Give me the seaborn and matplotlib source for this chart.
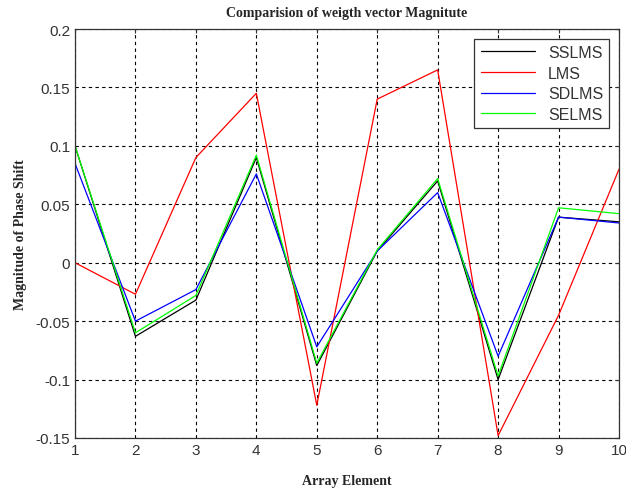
import seaborn as sns
import matplotlib.pyplot as plt
import pandas as pd

# values
elements = [1, 2, 3, 4, 5, 6, 7, 8, 9, 10]
sslms = [0.100, -0.063, -0.032, 0.090, -0.088, 0.010, 0.070, -0.100, 0.039, 0.035]
lms = [0.000, -0.027, 0.090, 0.145, -0.122, 0.140, 0.165, -0.148, -0.045, 0.080]
sdlms = [0.085, -0.050, -0.023, 0.076, -0.072, 0.010, 0.060, -0.080, 0.039, 0.034]
selms = [0.100, -0.060, -0.028, 0.092, -0.086, 0.011, 0.072, -0.097, 0.047, 0.042]

names = ["SSLMS", "LMS", "SDLMS", "SELMS"]
colors = ["black", "red", "blue", "lime"]

df = pd.DataFrame({"SSLMS": sslms, "LMS": lms, "SDLMS": sdlms, "SELMS": selms})
df["element"] = elements
long = df.melt(id_vars="element", var_name="method", value_name="shift")

sns.set_style("white")
plt.rcParams["font.family"] = ["Liberation Sans", "DejaVu Sans"]

fig = plt.figure(figsize=(6.26, 4.89), dpi=100)
ax = fig.add_axes([75 / 626, 1 - 439 / 489, 544 / 626, 409 / 489])

sns.lineplot(data=long, x="element", y="shift", hue="method", hue_order=names,
             palette=colors, linewidth=0.9, ax=ax)

ax.set_xlim(1, 10)
ax.set_ylim(-0.15, 0.2)
ax.set_xticks(elements)
yt = [-0.15, -0.1, -0.05, 0, 0.05, 0.1, 0.15, 0.2]
ax.set_yticks(yt)
ax.set_yticklabels(["-0.15", "-0.1", "-0.05", "0", "0.05", "0.1", "0.15", "0.2"])
ax.tick_params(direction="in", top=True, right=True, labelsize=11, length=3,
               labelcolor="#333333", color="#333333")
ax.grid(True, color="black", linestyle=(0, (3, 3)), linewidth=0.8)
for s in ax.spines.values():
    s.set_color("#333333")
    s.set_linewidth(0.9)

ax.set_xlabel("Array Element", family="Liberation Serif", fontweight="bold",
              fontsize=10, labelpad=12)
ax.set_ylabel("Magnitude of Phase Shift", family="Liberation Serif", fontweight="bold",
              fontsize=10, labelpad=6)
ax.set_title("Comparision of weigth vector Magnitute", family="Liberation Serif",
             fontweight="bold", fontsize=10, pad=9)

leg = ax.legend(loc="upper right", fontsize=11.5, fancybox=False, framealpha=1,
                edgecolor="#333333", handlelength=3.4, borderaxespad=0.6,
                labelspacing=0.35)
leg.get_frame().set_linewidth(0.9)
for t in leg.get_texts():
    t.set_color("#333333")

fig.savefig("out.png", dpi=100)
